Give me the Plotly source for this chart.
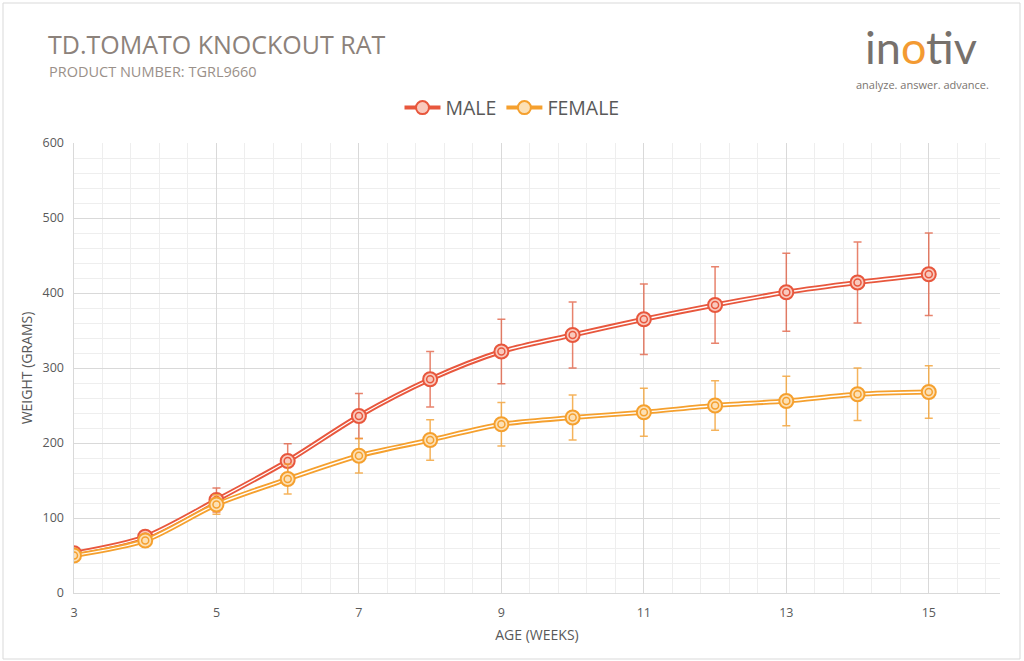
import plotly.graph_objects as go

weeks = [3, 4, 5, 6, 7, 8, 9, 10, 11, 12, 13, 14, 15]
male = [53, 75, 124, 176, 236, 285, 322, 344, 365, 384, 401, 414, 425]
male_err = [5, 8, 16, 23, 30, 37, 43, 44, 47, 51, 52, 54, 55]
female = [50, 70, 118, 152, 183, 204, 225, 234, 241, 250, 256, 265, 268]
female_err = [4, 6, 13, 20, 23, 27, 29, 30, 32, 33, 33, 35, 35]

MALE_C = "#E8573D"
FEMALE_C = "#F5A02E"
MALE_ERR = "rgba(224,90,60,0.75)"
FEMALE_ERR = "rgba(243,160,50,0.8)"
MALE_FILL = "#F9C9BD"
FEMALE_FILL = "#FCE0B5"
TXT = "#595959"

fig = go.Figure()

def add_series(name, y, err, col, ecol, fill):
    fig.add_trace(go.Scatter(
        x=weeks, y=y, mode="lines", line=dict(color=col, width=5, shape="spline", smoothing=0.8),
        error_y=dict(type="data", array=err, visible=True, color=ecol, thickness=1.5, width=4),
        showlegend=False, hoverinfo="skip"))
    fig.add_trace(go.Scatter(
        x=weeks, y=y, mode="lines", line=dict(color="white", width=1.3, shape="spline", smoothing=0.8),
        showlegend=False, hoverinfo="skip"))
    fig.add_trace(go.Scatter(
        x=weeks, y=y, mode="markers",
        marker=dict(symbol="circle", size=14, color=fill, line=dict(color=col, width=2)),
        showlegend=False, name=name))
    fig.add_trace(go.Scatter(
        x=weeks, y=y, mode="markers",
        marker=dict(symbol="circle-open", size=7, color=col, line=dict(color=col, width=1.5)),
        showlegend=False, hoverinfo="skip"))
    fig.add_trace(go.Scatter(
        x=[None], y=[None], mode="lines+markers", name=name,
        line=dict(color=col, width=4),
        marker=dict(symbol="circle", size=13, color=fill, line=dict(color=col, width=2))))

add_series("MALE", male, male_err, MALE_C, MALE_ERR, MALE_FILL)
add_series("FEMALE", female, female_err, FEMALE_C, FEMALE_ERR, FEMALE_FILL)

fig.update_layout(
    width=1024, height=661,
    margin=dict(l=74, r=24, t=143, b=68),
    paper_bgcolor="white", plot_bgcolor="white",
    font=dict(family="Open Sans, sans-serif", color=TXT, size=12),
    showlegend=True,
    legend=dict(orientation="h", x=0.473, xanchor="center", y=1.078, yanchor="middle",
                font=dict(size=19.5, color=TXT), itemwidth=36, traceorder="normal",
                bgcolor="rgba(0,0,0,0)"),
    xaxis=dict(range=[3, 16], tick0=3, dtick=2, showgrid=True, gridcolor="#D9D9D9", gridwidth=1,
               minor=dict(dtick=0.4, tick0=3, showgrid=True, gridcolor="#EEEEEE", gridwidth=1),
               showline=True, linecolor="#D9D9D9", linewidth=1, zeroline=False,
               ticks="", tickfont=dict(size=12.5, color=TXT), ticklabelstandoff=8,
               title=dict(text="AGE (WEEKS)", font=dict(size=14, color=TXT), standoff=10)),
    yaxis=dict(range=[0, 600], dtick=100, showgrid=True, gridcolor="#D9D9D9", gridwidth=1,
               minor=dict(dtick=20, showgrid=True, gridcolor="#EEEEEE", gridwidth=1),
               showline=True, linecolor="#D9D9D9", linewidth=1, zeroline=False,
               ticks="", tickfont=dict(size=12.5, color=TXT), ticksuffix="  ",
               title=dict(text="WEIGHT (GRAMS)", font=dict(size=14, color=TXT), standoff=6)),
)

# outer border
fig.add_shape(type="rect", xref="paper", yref="paper",
              x0=-71/926, x1=946/926, y0=-66/450, y1=(593-3)/450,
              line=dict(color="#D9D9D9", width=1), fillcolor="rgba(0,0,0,0)", layer="below")

def px_x(px):
    return (px - 74) / 926

def px_y(py):
    return (593 - py) / 450

fig.add_annotation(text="TD.TOMATO KNOCKOUT RAT", xref="paper", yref="paper",
                   x=px_x(46), y=px_y(44), xanchor="left", yanchor="middle", showarrow=False,
                   font=dict(size=25, color="#8C827B", family="Open Sans, sans-serif"))
fig.add_annotation(text="PRODUCT NUMBER: TGRL9660", xref="paper", yref="paper",
                   x=px_x(47), y=px_y(71), xanchor="left", yanchor="middle", showarrow=False,
                   font=dict(size=14.5, color="#9A9089", family="Open Sans, sans-serif"))
# logo
fig.add_annotation(text="in<span style='color:#F39A32'>o</span>tiv", xref="paper", yref="paper",
                   x=px_x(921), y=px_y(75), xanchor="center", yanchor="bottom", showarrow=False,
                   borderpad=0,
                   font=dict(size=45, color="#77716C", family="Lato, sans-serif", weight=400))
fig.add_annotation(text="analyze. answer. advance.", xref="paper", yref="paper",
                   x=px_x(922), y=px_y(76), xanchor="center", yanchor="top", showarrow=False,
                   borderpad=0,
                   font=dict(size=11, color="#7A746F", family="Open Sans, sans-serif"))

fig.write_html("out.html")
